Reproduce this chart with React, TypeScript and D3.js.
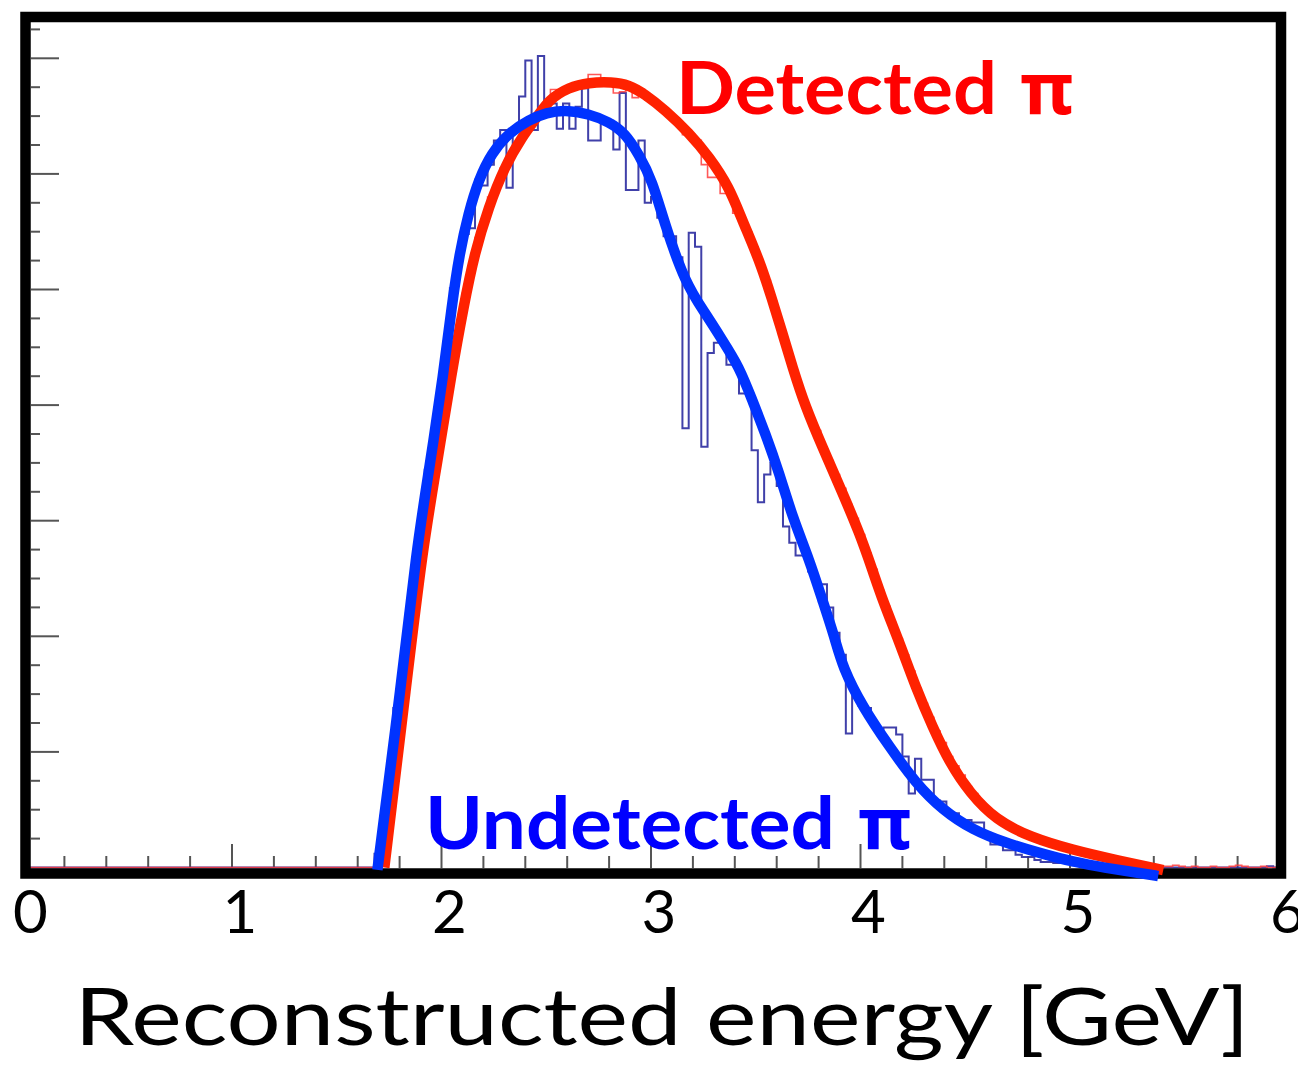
import React from 'react';
import * as d3 from 'd3';

// ---------- data ----------
const X_TICK_LABELS = ['0', '1', '2', '3', '4', '5', '6'];
const X_DOMAIN = [0, 6];
const Y_DOMAIN = [0, 7.3];
const BIN_WIDTH = 0.03;
const HIST_START = 1.68;

// Undetected (blue) histogram, bins of 0.03 GeV starting at 1.68 GeV
const blueHist = [
  0.12, 0.45, 0.85, 1.38, 1.70, 2.20, 2.65, 3.05, 3.44, 3.72,
  4.12, 4.55, 5.01, 5.25, 5.48, 5.53, 5.95, 5.90, 6.08, 6.29,
  6.38, 5.88, 6.38, 6.67, 6.98, 6.38, 7.02, 6.61, 6.61, 6.39,
  6.61, 6.39, 6.58, 6.74, 6.29, 6.29, 6.46, 6.46, 6.21, 6.70,
  5.86, 5.86, 6.29, 5.75, 5.80, 5.62, 5.46, 5.46, 5.28, 3.80,
  5.49, 5.37, 3.64, 4.45, 4.54, 4.54, 4.35, 4.35, 4.10, 4.10,
  3.61, 3.16, 3.40, 3.50, 3.30, 2.95, 2.81, 2.70, 2.70, 2.56,
  2.45, 2.45, 2.25, 2.03, 1.84, 1.16, 1.50, 1.40, 1.38, 1.25,
  1.20, 1.21, 1.21, 1.15, 0.96, 0.64, 0.94, 0.76, 0.76, 0.58,
  0.57, 0.47, 0.47, 0.41, 0.41, 0.39, 0.39, 0.30, 0.20, 0.20,
  0.15, 0.15, 0.11, 0.09, 0.09, 0.065, 0.048, 0.048, 0.04, 0.04,
  0.04, 0.02, 0.03, 0.02, 0.01, 0.02, 0.01, 0.01, 0.0, 0.01,
  0.0, 0.0, 0.01, 0.0, 0.0, 0.0, 0.0, 0.0, 0.0, 0.0,
  0.0, 0.0, 0.0, 0.0, 0.0, 0.0, 0.0, 0.0, 0.0, 0.0,
  0.0, 0.0, 0.01, 0.0,
];

// Detected (red) histogram, same binning
const redHist = [
  0.03, 0.20, 0.45, 0.90, 1.30, 1.82, 2.22, 2.70, 3.05, 3.33,
  3.70, 4.00, 4.38, 4.62, 4.97, 5.18, 5.45, 5.57, 5.80, 5.88,
  6.05, 6.12, 6.25, 6.30, 6.42, 6.46, 6.56, 6.60, 6.73, 6.69,
  6.74, 6.76, 6.75, 6.80, 6.86, 6.86, 6.76, 6.77, 6.70, 6.71,
  6.78, 6.66, 6.73, 6.64, 6.64, 6.58, 6.55, 6.49, 6.44, 6.34,
  6.34, 6.29, 6.08, 5.97, 5.97, 5.83, 5.86, 5.66, 5.62, 5.50,
  5.37, 5.22, 5.08, 4.90, 4.72, 4.53, 4.36, 4.18, 4.03, 3.88,
  3.78, 3.64, 3.52, 3.40, 3.28, 3.14, 3.02, 2.88, 2.72, 2.58,
  2.40, 2.26, 2.12, 1.98, 1.84, 1.70, 1.55, 1.42, 1.30, 1.18,
  1.08, 0.96, 0.88, 0.80, 0.70, 0.64, 0.57, 0.50, 0.44, 0.40,
  0.37, 0.34, 0.32, 0.28, 0.26, 0.25, 0.23, 0.21, 0.19, 0.18,
  0.16, 0.15, 0.13, 0.12, 0.11, 0.09, 0.08, 0.07, 0.06, 0.05,
  0.04, 0.03, 0.02, 0.02, 0.01, 0.01, 0.01, 0.02, 0.01, 0.0,
  0.01, 0.0, 0.0, 0.01, 0.0, 0.0, 0.01, 0.02, 0.01, 0.0,
  0.0, 0.01, 0.0, 0.0,
];

// Smooth fitted curves (x in GeV, y in axis units)
const blueCurveX = [
  1.694, 1.809, 1.880, 1.943, 2.010, 2.048, 2.086, 2.129, 2.177, 2.239,
  2.321, 2.416, 2.502, 2.589, 2.703, 2.799, 2.876, 2.943, 3.005, 3.067,
  3.163, 3.258, 3.340, 3.421, 3.483, 3.545, 3.612, 3.675, 3.756, 3.818,
  3.876, 3.914, 4.010, 4.139, 4.263, 4.392, 4.536, 4.694, 4.856, 5.014,
  5.172, 5.335, 5.421,
];
const blueCurveY = [
  -0.02, 1.596, 2.747, 3.465, 4.278, 4.849, 5.316, 5.662, 5.948, 6.181,
  6.354, 6.467, 6.530, 6.553, 6.520, 6.450, 6.354, 6.164, 5.948, 5.558,
  5.056, 4.797, 4.563, 4.330, 4.044, 3.759, 3.413, 3.032, 2.660, 2.314,
  1.994, 1.734, 1.389, 1.042, 0.731, 0.497, 0.324, 0.212, 0.125, 0.048,
  -0.004, -0.048, -0.074,
];
const redCurveX = [
  1.727, 1.833, 1.909, 1.976, 2.048, 2.105, 2.158, 2.225, 2.301, 2.383,
  2.464, 2.512, 2.608, 2.703, 2.813, 2.895, 2.971, 3.067, 3.182, 3.278,
  3.373, 3.435, 3.517, 3.579, 3.627, 3.675, 3.737, 3.818, 3.914, 3.995,
  4.057, 4.105, 4.187, 4.263, 4.344, 4.426, 4.522, 4.646, 4.809, 5.014,
  5.220, 5.445,
];
const redCurveY = [
  0.0, 1.596, 2.747, 3.465, 4.278, 4.849, 5.316, 5.714, 6.060, 6.320,
  6.510, 6.640, 6.750, 6.790, 6.795, 6.770, 6.690, 6.553, 6.354, 6.147,
  5.887, 5.600, 5.256, 4.910, 4.624, 4.330, 3.984, 3.638, 3.240, 2.894,
  2.574, 2.314, 1.942, 1.561, 1.215, 0.904, 0.644, 0.411, 0.264, 0.151,
  0.065, -0.022,
];

const detectedLabel = 'Detected';
const undetectedLabel = 'Undetected';
const piLabel = '\u03c0';
const xTitle = 'Reconstructed energy [GeV]';

// ---------- chart ----------
const W = 1298;
const H = 1068;
const FONT = 'Lato, "Open Sans", "DejaVu Sans", sans-serif';
const PI_FONT = '"Noto Sans", "Open Sans", "DejaVu Sans", sans-serif';

export default function App() {
  const x = d3.scaleLinear().domain(X_DOMAIN).range([22.5, 1279.5]);
  const y = d3.scaleLinear().domain(Y_DOMAIN).range([867.5, 867.5 - 7.3 * 115.6]);

  const histLine = d3
    .line<[number, number]>()
    .x((d) => x(d[0]))
    .y((d) => y(d[1]))
    .curve(d3.curveStepAfter);

  const histPoints = (vals: number[]): [number, number][] => {
    const pts: [number, number][] = [[X_DOMAIN[0], 0]];
    vals.forEach((v, i) => pts.push([HIST_START + i * BIN_WIDTH, v]));
    const end = HIST_START + vals.length * BIN_WIDTH;
    pts.push([end, 0]);
    pts.push([X_DOMAIN[1], 0]);
    return pts;
  };

  const smooth = d3
    .line<[number, number]>()
    .x((d) => x(d[0]))
    .y((d) => y(d[1]))
    .curve(d3.curveBasis);

  const bluePts = blueCurveX.map((v, i) => [v, blueCurveY[i]] as [number, number]);
  const redPts = redCurveX.map((v, i) => [v, redCurveY[i]] as [number, number]);

  const yTicks = d3.range(1, 30).map((k) => k * 0.25);
  const xTicks = d3.range(1, 30).map((k) => k * 0.2);

  const tickColor = '#555';

  return (
    <svg
      width={W}
      height={H}
      viewBox={`0 0 ${W} ${H}`}
      style={{ position: 'absolute', left: 0, top: 0, background: '#fff' }}
    >
      <rect x={0} y={0} width={W} height={H} fill="#fff" />

      {/* y ticks */}
      <g stroke={tickColor} strokeWidth={2}>
        {yTicks.map((t) => {
          const major = Math.abs(t - Math.round(t)) < 1e-6;
          return (
            <line key={'y' + t} x1={31} x2={major ? 59 : 40} y1={y(t)} y2={y(t)} />
          );
        })}
      </g>
      {/* x ticks */}
      <g stroke={tickColor} strokeWidth={2}>
        {xTicks.map((t) => {
          const major = Math.abs(t - Math.round(t)) < 1e-6;
          return (
            <line key={'x' + t} x1={x(t)} x2={x(t)} y1={868} y2={major ? 844 : 856} />
          );
        })}
      </g>

      {/* histograms */}
      <path d={histLine(histPoints(blueHist)) || ''} fill="none" stroke="#2b2ba0" strokeWidth={2} strokeOpacity={0.9} />
      <path d={histLine(histPoints(redHist)) || ''} fill="none" stroke="#ff3b3b" strokeWidth={1.6} strokeOpacity={0.85} />

      {/* frame */}
      <rect x={25.5} y={17} width={1255.5} height={856.5} fill="none" stroke="#000" strokeWidth={10.5} />

      {/* smooth curves */}
      <path d={smooth(redPts) || ''} fill="none" stroke="#ff2200" strokeWidth={10.5} strokeLinecap="butt" />
      <path d={smooth(bluePts) || ''} fill="none" stroke="#0033ff" strokeWidth={10.5} strokeLinecap="butt" />

      {/* labels */}
      <text y={114} fill="#ff0000" fontFamily={FONT} fontWeight={700} fontSize={72}>
        <tspan x={676} textLength={321} lengthAdjust="spacingAndGlyphs">{detectedLabel}</tspan>
        <tspan x={1020} fontFamily={PI_FONT}>{piLabel}</tspan>
      </text>
      <text y={849} fill="#0000ff" fontFamily={FONT} fontWeight={700} fontSize={72}>
        <tspan x={425} textLength={410} lengthAdjust="spacingAndGlyphs">{undetectedLabel}</tspan>
        <tspan x={858} fontFamily={PI_FONT}>{piLabel}</tspan>
      </text>

      {/* x tick labels */}
      {X_TICK_LABELS.map((lab, i) => (
        <text key={'xl' + lab} x={x(i) + 8} y={933} fill="#000" fontFamily={FONT} fontSize={60} textAnchor="middle">
          {lab}
        </text>
      ))}

      {/* axis title */}
      <text x={662} y={1045} fill="#000" fontFamily={FONT} fontSize={80} textAnchor="middle"
        textLength={1175} lengthAdjust="spacingAndGlyphs">
        {xTitle}
      </text>
    </svg>
  );
}
